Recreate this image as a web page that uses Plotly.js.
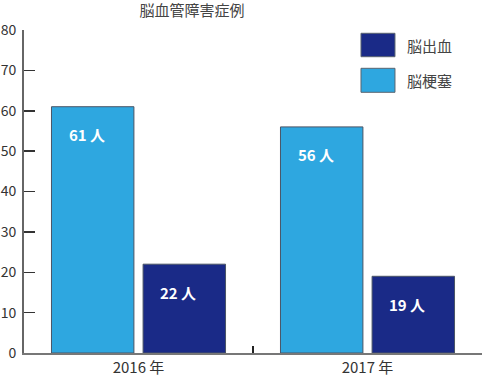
<!DOCTYPE html>
<html>
<head>
<meta charset="utf-8">
<script src="https://cdn.plot.ly/plotly-3.0.1.min.js"></script>
<style>html,body{margin:0;padding:0;background:#fff;}#chart{width:483px;height:376px;}</style>
</head>
<body>
<div id="chart"></div>
<script>
const categories = ["2016 年", "2017 年"];
const seriesNames = ["脳梗塞", "脳出血"];
const infarction = [61, 56];
const hemorrhage = [22, 19];
const unit = "人";
const chartTitle = "脳血管障害症例";

const FONT = '"Noto Sans CJK JP", "Noto Sans", sans-serif';
const colors = ["#2ea7e0", "#1a2a87"];
const seriesValues = [infarction, hemorrhage];
const bargap = 0.2, bargroupgap = 0.1;

const traces = seriesValues.map((vals, s) => ({
  type: "bar",
  name: seriesNames[s],
  x: categories,
  y: vals,
  marker: {color: colors[s], line: {color: "#4a5566", width: 1}},
  hoverinfo: "skip",
  showlegend: false
}));

// bar-value labels (positioned at bar centers derived from the bar layout)
const slot = (1 - bargap) / seriesValues.length;
const annotations = [];
seriesValues.forEach((vals, s) => {
  const off = -(1 - bargap) / 2 + slot * (s + 0.5);
  vals.forEach((v, i) => {
    annotations.push({
      xref: "x", yref: "y", x: i + off, y: v,
      text: v + " " + unit, showarrow: false,
      xanchor: "center", yanchor: "middle", xshift: -6, yshift: -28,
      font: {family: FONT, size: 15, color: "#ffffff", weight: "bold"}
    });
  });
});

// custom legend (large swatches), 脳出血 on top
const legendOrder = [1, 0];
const shapes = [];
const swX0 = 0.7358, swX1 = 0.8100;
const rows = [[0.9173, 0.9898], [0.8071, 0.8814]];
legendOrder.forEach((s, r) => {
  shapes.push({
    type: "rect", xref: "paper", yref: "paper",
    x0: swX0, x1: swX1, y0: rows[r][0], y1: rows[r][1],
    fillcolor: colors[s], line: {color: "#5a6470", width: 1}
  });
  annotations.push({
    xref: "paper", yref: "paper", x: 0.832, y: (rows[r][0] + rows[r][1]) / 2,
    text: seriesNames[s], showarrow: false, xanchor: "left", yanchor: "middle",
    font: {family: FONT, size: 15, color: "#444444"}
  });
});

const layout = {
  width: 483, height: 376,
  margin: {l: 24, r: 1, t: 30, b: 23, pad: 0},
  paper_bgcolor: "#ffffff", plot_bgcolor: "#ffffff",
  font: {family: FONT, size: 15, color: "#333333"},
  title: {
    text: chartTitle, xref: "container", yref: "container",
    x: 0.3975, y: 0.972, xanchor: "center", yanchor: "middle",
    font: {family: FONT, size: 15, color: "#444444"}
  },
  barmode: "group", bargap: bargap, bargroupgap: bargroupgap,
  showlegend: false,
  xaxis: {
    type: "category", tickson: "boundaries",
    ticks: "inside", ticklen: 7, tickwidth: 1.5, tickcolor: "#222222",
    showline: true, linecolor: "#777777", linewidth: 2,
    showgrid: false, zeroline: false,
    tickfont: {family: FONT, size: 15, color: "#333333"},
    fixedrange: true
  },
  yaxis: {
    range: [0, 80], dtick: 10, tick0: 0,
    ticks: "inside", ticklen: 11, tickwidth: 1.5, tickcolor: "#333333",
    showline: true, linecolor: "#666666", linewidth: 2,
    showgrid: false, zeroline: false,
    ticklabelstandoff: 3,
    tickfont: {family: FONT, size: 14, color: "#333333"},
    fixedrange: true
  },
  shapes: shapes,
  annotations: annotations
};

Plotly.newPlot("chart", traces, layout, {displayModeBar: false, staticPlot: true});
</script>
</body>
</html>
